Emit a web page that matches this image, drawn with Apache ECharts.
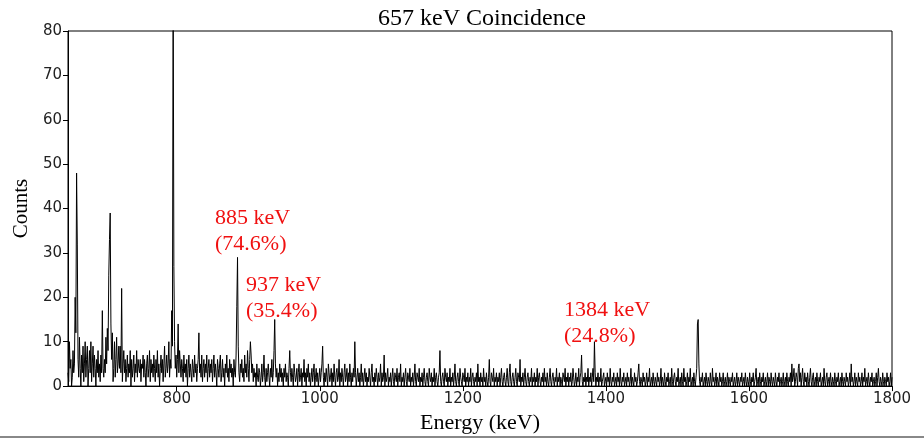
<!DOCTYPE html>
<html><head><meta charset="utf-8">
<script src="https://cdn.jsdelivr.net/npm/echarts@6/dist/echarts.min.js"></script>
<style>html,body{margin:0;padding:0;background:#fff}#c{width:924px;height:439px}</style>
</head><body><div id="c"></div>
<script>
// Spectrum: 1 keV bins; each array holds 50 consecutive bins starting at the energy in its name
const c648 = [3,1,10,4,6,0,2,8,3,5, 20,12,48,32,6,2,11,4,0,7, 3,9,1,5,10,2,6,9,0,4, 8,3,10,1,5,9,2,7,4,0, 6,3,8,2,5,1,7,3,17,4];
const c698 = [2,6,3,11,5,13,8,25,33,39, 14,6,12,1,4,10,2,6,11,3, 5,9,4,9,3,22,1,5,8,3, 6,1,4,7,2,5,3,8,0,6, 2,4,7,1,5,3,8,2,6,4];
const c748 = [3,6,1,5,4,7,2,6,3,0, 5,7,2,4,8,1,6,3,5,2, 7,4,1,6,3,8,2,5,0,4, 7,3,6,1,5,9,2,4,7,3, 5,10,2,6,4,17,9,95,27,10];
const c798 = [4,7,2,6,14,3,8,5,2,6, 4,1,7,3,5,2,6,0,4,7, 2,5,3,1,6,4,2,7,3,5, 1,4,6,12,3,5,2,7,1,4, 6,2,5,3,7,1,4,6,2,5];
const c848 = [3,6,1,4,7,2,5,3,0,6, 4,2,5,7,1,3,6,2,4,0, 5,3,7,2,4,1,6,3,5,2, 4,0,6,3,2,7,18,29,9,3, 1,5,3,6,2,4,1,7,3,5];
const c898 = [2,8,4,1,6,10,7,3,5,1, 4,2,3,0,5,2,1,4,3,0, 2,5,1,3,7,2,0,4,1,3, 5,2,0,4,2,6,1,3,8,15, 5,2,4,0,3,1,5,2,4,1];
const c948 = [3,0,4,2,5,1,3,2,0,4, 8,3,1,4,2,0,5,3,1,2, 4,0,3,5,1,2,4,0,3,2, 6,1,3,0,4,2,5,1,3,0, 2,4,1,3,5,0,2,4,1,3];
const c998 = [0,2,4,1,3,5,9,2,0,3, 1,4,2,0,5,3,1,2,4,0, 3,1,5,2,0,3,4,1,2,6, 0,3,1,4,2,0,3,5,1,2, 4,0,3,1,5,2,0,3,1,4];
const c1048 = [2,10,3,0,2,4,1,3,0,2, 5,1,3,0,2,4,1,3,0,2, 1,4,2,0,3,5,1,2,0,3, 1,4,2,0,3,1,2,5,0,3, 1,2,7,0,3,1,2,4,0,2];
const c1098 = [1,3,0,2,4,1,0,3,2,1, 4,0,2,3,1,5,0,2,1,3, 0,2,4,1,0,3,2,1,4,0, 2,1,3,0,2,5,1,0,3,2, 1,4,0,2,1,3,0,2,4,1];
const c1148 = [0,2,3,1,0,4,2,1,3,0, 2,1,4,0,2,3,1,0,2,3, 8,1,0,2,3,1,0,4,2,1, 3,0,2,1,4,0,2,1,3,0, 2,5,1,0,2,3,1,0,4,2];
const c1198 = [1,0,3,2,1,4,0,2,1,3, 0,2,1,4,0,2,3,1,0,2, 1,3,0,5,1,2,0,3,1,2, 0,4,1,2,0,3,1,0,2,6, 1,0,3,2,1,4,0,2,1,3];
const c1248 = [0,2,1,3,0,2,4,1,0,2, 3,1,0,2,4,1,0,3,5,1, 0,2,3,1,0,2,4,1,0,3, 2,1,6,0,2,1,3,0,2,4, 1,0,2,3,1,0,2,1,4,0];
const c1298 = [2,1,3,0,2,1,4,0,2,3, 1,0,2,1,3,0,4,1,2,0, 3,1,0,2,4,1,0,2,3,1, 0,2,1,4,0,2,1,3,0,2, 1,0,3,2,1,4,0,2,1,3];
const c1348 = [0,2,1,3,0,1,4,2,0,1, 3,0,2,1,4,0,2,3,7,1, 0,2,1,3,0,2,1,4,0,2, 1,3,0,2,4,1,10,3,0,2, 1,3,0,2,1,4,0,1,2,3];
const c1398 = [0,1,2,0,3,1,2,0,4,1, 0,2,1,3,0,1,2,0,3,1, 2,0,4,1,0,2,1,3,0,1, 2,0,3,1,2,0,1,4,0,2, 1,0,3,1,2,0,1,3,5,1];
const c1448 = [0,2,1,0,3,1,2,0,1,3, 0,2,1,4,0,1,2,0,3,1, 0,2,1,0,3,1,2,0,1,4, 0,2,1,0,3,1,0,2,1,3, 0,1,2,0,4,1,0,2,3,1];
const c1498 = [0,2,1,4,0,1,2,0,3,1, 0,4,1,2,0,1,3,0,2,1, 4,0,1,2,0,3,1,0,2,4, 14,15,5,1,0,2,1,3,0,1, 2,0,3,1,0,2,1,0,3,1];
const c1548 = [0,4,1,2,0,1,3,0,2,1, 0,3,1,2,0,1,3,0,1,2, 0,1,3,0,2,1,0,2,1,3, 0,1,2,0,1,3,0,2,1,0, 2,1,3,0,1,2,0,3,1,0];
const c1598 = [2,1,0,3,1,0,2,1,3,0, 1,2,4,0,1,2,0,3,1,0, 2,1,3,0,1,2,0,1,3,0, 2,1,0,3,1,0,2,1,0,3, 1,0,2,1,3,0,1,2,0,1];
const c1648 = [3,0,1,2,0,3,1,0,2,1, 3,0,5,1,2,4,0,1,3,2, 0,4,5,1,3,0,2,4,1,0, 3,1,2,0,3,1,0,2,4,1, 0,2,3,0,1,2,0,3,1,0];
const c1698 = [2,1,3,0,1,2,0,4,1,0, 2,3,0,1,2,0,3,1,0,2, 1,0,3,1,0,2,1,3,0,1, 2,0,3,1,0,2,1,0,3,1, 2,0,1,3,0,5,1,2,0,1];
const c1748 = [3,0,2,1,0,3,1,2,0,1, 3,0,2,1,4,0,1,2,0,3, 1,0,2,1,3,0,1,2,0,1, 3,0,2,4,1,0,2,1,0,3, 1,0,2,1,0,3,1,2,0,1, 3,0,2];
const segments = [[648,c648],[698,c698],[748,c748],[798,c798],[848,c848],[898,c898],[948,c948],[998,c998],
  [1048,c1048],[1098,c1098],[1148,c1148],[1198,c1198],[1248,c1248],[1298,c1298],[1348,c1348],[1398,c1398],
  [1448,c1448],[1498,c1498],[1548,c1548],[1598,c1598],[1648,c1648],[1698,c1698],[1748,c1748]];
const xTicks = [800,1000,1200,1400,1600,1800];
const yTicks = [0,10,20,30,40,50,60,70,80];
const annotations = ['885 keV\n(74.6%)','937 keV\n(35.4%)','1384 keV\n(24.8%)'];

const seriesData = [];
segments.forEach(([start,arr])=>arr.forEach((c,i)=>seriesData.push([start+i,c])));

const serif = 'Liberation Serif';
const sans = 'DejaVu Sans';
const chart = echarts.init(document.getElementById('c'));
const annPos = [[215,205],[246,272],[564,297]];
chart.setOption({
  animation:false,
  backgroundColor:'#fff',
  title:{text:'657 keV Coincidence',left:477,textAlign:'center',top:2,
    textStyle:{fontFamily:serif,fontSize:24,fontWeight:'normal',color:'#000'}},
  grid:{left:68,right:32,top:31,bottom:45,show:true,borderColor:'#000',borderWidth:1,backgroundColor:'transparent'},
  xAxis:{type:'value',min:648,max:1800,
    name:'Energy (keV)',nameLocation:'middle',nameGap:24,
    nameTextStyle:{fontFamily:serif,fontSize:22,color:'#000'},
    axisLine:{show:true,lineStyle:{color:'#000',width:1}},
    axisTick:{show:true,customValues:xTicks,length:5,lineStyle:{color:'#000'}},
    axisLabel:{customValues:xTicks,formatter:v=>String(v),fontFamily:sans,fontSize:15,color:'#222',margin:6},
    splitLine:{show:false}},
  yAxis:{type:'value',min:0,max:80,interval:10,
    name:'Counts',nameLocation:'middle',nameGap:31,nameRotate:90,
    nameTextStyle:{fontFamily:serif,fontSize:21,color:'#000'},
    axisLine:{show:true,lineStyle:{color:'#000',width:1}},
    axisTick:{show:true,customValues:yTicks,length:5,lineStyle:{color:'#000'}},
    axisLabel:{customValues:yTicks,fontFamily:sans,fontSize:15,color:'#222',margin:6},
    splitLine:{show:false}},
  series:[{type:'line',data:seriesData,showSymbol:false,symbol:'none',clip:true,
    lineStyle:{color:'#000',width:1},z:2}],
  graphic:annotations.map((t,i)=>({type:'text',left:annPos[i][0],top:annPos[i][1],
    style:{text:t,fill:'#f01010',font:'22px "Liberation Serif"',lineHeight:26}}))
  .concat([{type:'rect',left:0,top:436,shape:{width:924,height:2},style:{fill:'#888'}}])
});
</script></body></html>
